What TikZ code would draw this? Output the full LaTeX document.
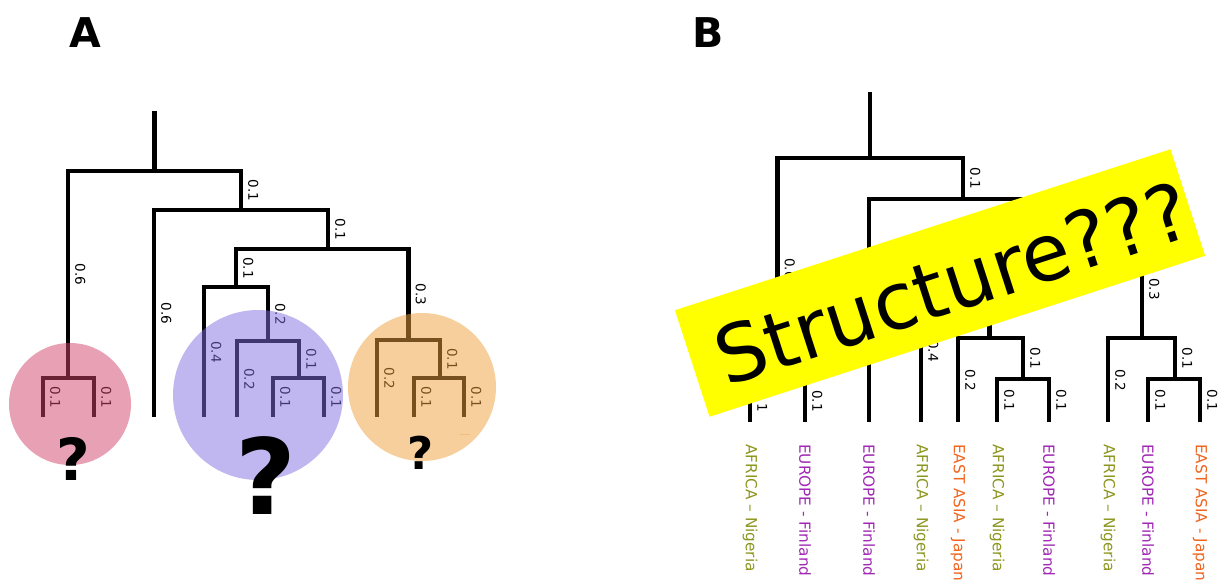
\documentclass[tikz,border=0pt]{standalone}
\usepackage{fontspec}
\setmainfont{DejaVu Sans}
\usetikzlibrary{calc}
\definecolor{pinkc}{RGB}{210,66,105}
\definecolor{purpc}{RGB}{130,110,225}
\definecolor{orngc}{RGB}{237,160,60}
\definecolor{africa}{RGB}{140,150,30}
\definecolor{europe}{RGB}{160,40,180}
\definecolor{eastasia}{RGB}{240,100,30}
\definecolor{bannery}{RGB}{255,255,0}
\newcommand{\dendro}[1]{%
  \draw[edge] (#1-top) -- (#1-r);
  \draw[edge] (#1-r) -| node[elbl]{0.6} (#1-pk);
  \draw[edge] (#1-r) -| node[elbl]{0.1} (#1-n1);
  \draw[edge] (#1-pk) -| node[elbl]{0.1} (#1-l1);
  \draw[edge] (#1-pk) -| node[elbl]{0.1} (#1-l2);
  \draw[edge] (#1-n1) -| node[elbl]{0.6} (#1-l3);
  \draw[edge] (#1-n1) -| node[elbl]{0.1} (#1-n2);
  \draw[edge] (#1-n2) -| node[elbl]{0.1} (#1-nA);
  \draw[edge] (#1-n2) -| node[elbl]{0.3} (#1-nO);
  \draw[edge] (#1-nA) -| node[elbl]{0.4} (#1-l4);
  \draw[edge] (#1-nA) -| node[elbl]{0.2} (#1-nB);
  \draw[edge] (#1-nB) -| node[elbl]{0.2} (#1-l5);
  \draw[edge] (#1-nB) -| node[elbl]{0.1} (#1-nC);
  \draw[edge] (#1-nC) -| node[elbl]{0.1} (#1-l6);
  \draw[edge] (#1-nC) -| node[elbl]{0.1} (#1-l7);
  \draw[edge] (#1-nO) -| node[elbl]{0.2} (#1-l8);
  \draw[edge] (#1-nO) -| node[elbl]{0.1} (#1-nO2);
  \draw[edge] (#1-nO2) -| node[elbl]{0.1} (#1-l9);
  \draw[edge] (#1-nO2) -| node[elbl]{0.1} (#1-l10);
}
\begin{document}
\begin{tikzpicture}[x=1pt,y=-1pt,
  edge/.style={line width=4.5pt, line join=miter},
  elbl/.style={pos=0.75, rotate=-90, anchor=south, inner sep=5pt,
    font=\fontsize{13.5}{14}\selectfont},
  blob/.style={circle, fill opacity=0.5, draw=none, inner sep=0pt},
  qmark/.style={inner sep=0pt, font=\bfseries},
  leaflbl/.style={rotate=-90, anchor=west, inner sep=0pt,
    font=\fontsize{15.3}{16}\selectfont},
  panel/.style={font=\bfseries\fontsize{41}{42}\selectfont, inner sep=0pt},
  bannerbox/.style={rectangle, fill=bannery, draw=none, rotate=18,
    minimum width=521pt, minimum height=112pt, inner sep=0pt}
]
\useasboundingbox (0,0) rectangle (1222,580);

% ---------- Panel A ----------
\node[panel] (labA) at (85,33) {A};
\coordinate (A-top) at (154.5,111);
\coordinate (A-r) at (154.5,171);
\coordinate (A-pk) at (68,378);
\coordinate (A-l1) at (43,417);
\coordinate (A-l2) at (94,417);
\coordinate (A-n1) at (241,210);
\coordinate (A-l3) at (154,417);
\coordinate (A-n2) at (328,249);
\coordinate (A-nA) at (236,287);
\coordinate (A-l4) at (204,417);
\coordinate (A-nB) at (268,341);
\coordinate (A-l5) at (237,417);
\coordinate (A-nC) at (299,378);
\coordinate (A-l6) at (273,417);
\coordinate (A-l7) at (324,417);
\coordinate (A-nO) at (408.5,340);
\coordinate (A-l8) at (377,417);
\coordinate (A-nO2) at (440,378);
\coordinate (A-l9) at (414,417);
\coordinate (A-l10) at (464,417);
\dendro{A}

\node[blob, fill=pinkc, minimum size=122pt] (cpink) at (70,404) {};
\node[blob, fill=purpc, minimum size=170pt] (cpurp) at (258,395) {};
\node[blob, fill=orngc, minimum size=148pt] (corng) at (422,387) {};
\draw[orngc!70, line width=1pt] (460,434) -- (470,434);

\node[qmark, font=\bfseries\fontsize{58}{58}\selectfont] (q1) at (73,459) {?};
\node[qmark, font=\bfseries\fontsize{105}{105}\selectfont] (q2) at (266,476) {?};
\node[qmark, font=\bfseries\fontsize{45}{45}\selectfont] (q3) at (421,453) {?};

% ---------- Panel B ----------
\node[panel] (labB) at (708,33) {B};
\coordinate (B-top) at (870,92);
\coordinate (B-r) at (870,158);
\coordinate (B-pk) at (777.5,380);
\coordinate (B-l1) at (750,422);
\coordinate (B-l2) at (805,422);
\coordinate (B-n1) at (963,199);
\coordinate (B-l3) at (869,422);
\coordinate (B-n2) at (1057,240);
\coordinate (B-nA) at (955,280);
\coordinate (B-l4) at (921,422);
\coordinate (B-nB) at (989.5,338);
\coordinate (B-l5) at (958,422);
\coordinate (B-nC) at (1023,379);
\coordinate (B-l6) at (997,422);
\coordinate (B-l7) at (1049,422);
\coordinate (B-nO) at (1142,338);
\coordinate (B-l8) at (1108,422);
\coordinate (B-nO2) at (1175,379);
\coordinate (B-l9) at (1148,422);
\coordinate (B-l10) at (1200,422);
\dendro{B}

\node[leaflbl, text=africa] (t1) at (750,444) {AFRICA – Nigeria};
\node[leaflbl, text=europe] (t2) at (805,444) {EUROPE - Finland};
\node[leaflbl, text=europe] (t3) at (869,444) {EUROPE - Finland};
\node[leaflbl, text=africa] (t4) at (921,444) {AFRICA – Nigeria};
\node[leaflbl, text=eastasia] (t5) at (958,444) {EAST ASIA - Japan};
\node[leaflbl, text=africa] (t6) at (997,444) {AFRICA – Nigeria};
\node[leaflbl, text=europe] (t7) at (1049,444) {EUROPE - Finland};
\node[leaflbl, text=africa] (t8) at (1108,444) {AFRICA – Nigeria};
\node[leaflbl, text=europe] (t9) at (1148,444) {EUROPE - Finland};
\node[leaflbl, text=eastasia] (t10) at (1200,444) {EAST ASIA - Japan};

\node[bannerbox] (ban) at (940,283) {};
\node[rotate=18, inner sep=0pt, font=\fontsize{79}{80}\selectfont] (bantext)
  at ($(ban.center)+(12.6,0)$) {Structure???};
\end{tikzpicture}
\end{document}
